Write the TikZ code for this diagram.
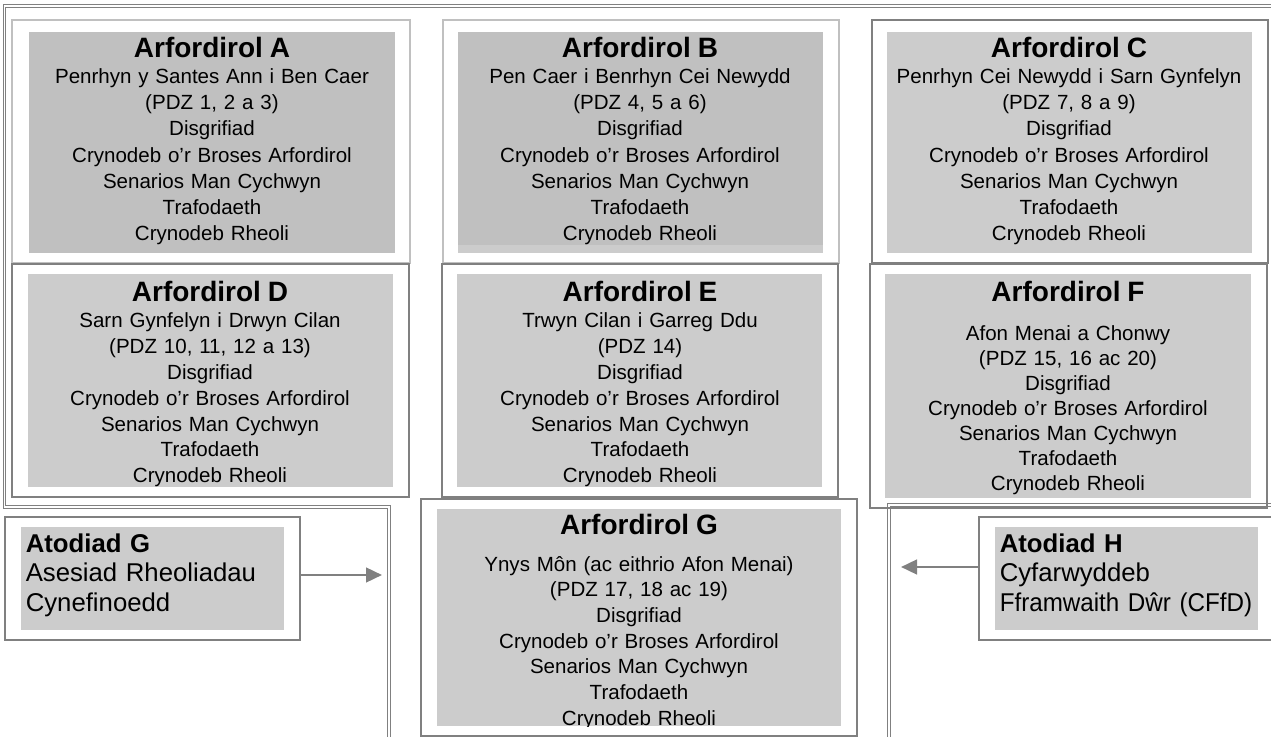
\documentclass[tikz,border=0pt]{standalone}
\usepackage{fontspec}
\setmainfont{Liberation Sans}
\newfontfamily\narrowsans[FakeStretch=0.94]{Liberation Sans}
\usetikzlibrary{arrows.meta,fit}
\definecolor{fillDark}{HTML}{C0C0C0}
\definecolor{fillLight}{HTML}{CCCCCC}
\definecolor{edgeDark}{HTML}{808080}
\definecolor{edgeLight}{HTML}{C0C0C0}
\newcommand\arfttl{\fontsize{21}{21}\bfseries\selectfont}
\begin{document}
\begin{tikzpicture}[x=0.75pt,y=-0.75pt,
  frameline/.style={draw=edgeDark, line width=0.75pt, double=white, double distance=1.1pt},
  outerbox/.style={draw=edgeDark, line width=1.4pt, inner sep=0pt},
  lightbox/.style={draw=edgeLight, line width=1.4pt, inner sep=0pt},
  fillbox/.style={fill=fillLight, inner sep=0pt},
  arftxt/.style={font=\fontsize{15.4}{19.5}\selectfont, text width=280pt, align=center, anchor=base, inner sep=0pt},
  atxt/.style={font=\fontsize{19.3}{22}\selectfont, text width=260pt, align=left, anchor=base west, inner sep=0pt},
  arr/.style={draw=edgeDark, line width=1.9pt, -{Triangle[length=12pt,width=11pt]}, fill=edgeDark}
]
\useasboundingbox (0,0) rectangle (1271,737);

% frame double lines
\draw[frameline] (1275,6.2) -- (4.7,6.2) -- (4.7,507.2) -- (389,507.2) -- (389,742);
\draw[frameline] (889,742) -- (889,505.2) -- (1275,505.2);

% outer boxes
\node[lightbox, fit={(12,20)(410,263)}] (bA) {};
\node[lightbox, fit={(443,20)(839,263)}] (bB) {};
\node[outerbox, fit={(872,20)(1268,263)}] (bC) {};
\node[outerbox, fit={(12,264)(409,497)}] (bD) {};
\node[outerbox, fit={(442,264)(838,497)}] (bE) {};
\node[outerbox, fit={(870,264)(1267,508)}] (bF) {};
\node[outerbox, fit={(421,499)(857,736)}] (bG) {};
\node[outerbox, fit={(5,517)(300,640)}] (atg) {};
\node[outerbox, fit={(979,517)(1276,640)}] (ath) {};

% grey fills
\node[fillbox, fill=fillDark, fit={(29,32)(395,253)}] (fA) {};
\node[fillbox, fit={(458,32)(823,253)}] (fB) {};
\fill[fillDark] (458,32) rectangle (823,245);
\node[fillbox, fit={(887,32)(1252,253)}] (fC) {};
\node[fillbox, fit={(28,274)(393,487)}] (fD) {};
\node[fillbox, fit={(457,274)(822,487)}] (fE) {};
\node[fillbox, fit={(885,274)(1251,498)}] (fF) {};
\node[fillbox, fit={(437,509)(841,726)}] (fG) {};
\node[fillbox, fit={(21,527)(284,630)}] (fatg) {};
\node[fillbox, fit={(995,527)(1258,630)}] (fath) {};

% texts
\node[arftxt, font=\fontsize{15.4}{19.6}\selectfont] (tA) at (212,57.5) {{\arfttl Arfordirol A}\\Penrhyn y Santes Ann i Ben Caer\\(PDZ 1, 2 a 3)\\Disgrifiad\\Crynodeb o’r Broses Arfordirol\\Senarios Man Cychwyn\\Trafodaeth\\Crynodeb Rheoli};
\node[arftxt, font=\fontsize{15.4}{19.6}\selectfont] (tB) at (640,57.5) {{\arfttl Arfordirol B}\\Pen Caer i Benrhyn Cei Newydd\\(PDZ 4, 5 a 6)\\Disgrifiad\\Crynodeb o’r Broses Arfordirol\\Senarios Man Cychwyn\\Trafodaeth\\Crynodeb Rheoli};
\node[arftxt, font=\fontsize{15.4}{19.6}\selectfont] (tC) at (1069,57.5) {{\arfttl Arfordirol C}\\Penrhyn Cei Newydd i Sarn Gynfelyn\\(PDZ 7, 8 a 9)\\Disgrifiad\\Crynodeb o’r Broses Arfordirol\\Senarios Man Cychwyn\\Trafodaeth\\Crynodeb Rheoli};
\node[arftxt, font=\fontsize{15.4}{19.4}\selectfont] (tD) at (210,301.7) {{\arfttl Arfordirol D}\\Sarn Gynfelyn i Drwyn Cilan\\(PDZ 10, 11, 12 a 13)\\Disgrifiad\\Crynodeb o’r Broses Arfordirol\\Senarios Man Cychwyn\\Trafodaeth\\Crynodeb Rheoli};
\node[arftxt, font=\fontsize{15.4}{19.4}\selectfont] (tE) at (640,301.7) {{\arfttl Arfordirol E}\\Trwyn Cilan i Garreg Ddu\\(PDZ 14)\\Disgrifiad\\Crynodeb o’r Broses Arfordirol\\Senarios Man Cychwyn\\Trafodaeth\\Crynodeb Rheoli};
\node[arftxt, font=\fontsize{15.4}{18.75}\selectfont] (tF) at (1068,301.7) {{\arfttl Arfordirol F}\\[10pt]Afon Menai a Chonwy\\(PDZ 15, 16 ac 20)\\Disgrifiad\\Crynodeb o’r Broses Arfordirol\\Senarios Man Cychwyn\\Trafodaeth\\Crynodeb Rheoli};
\begin{scope}
\clip (437,509) rectangle (841,726.5);
\node[arftxt, font=\fontsize{15.4}{19.3}\selectfont] (tG) at (639,534.3) {{\arfttl Arfordirol G}\\[8.25pt]Ynys Môn (ac eithrio Afon Menai)\\(PDZ 17, 18 ac 19)\\Disgrifiad\\Crynodeb o’r Broses Arfordirol\\Senarios Man Cychwyn\\Trafodaeth\\Crynodeb Rheoli};
\end{scope}

\node[atxt] (tatg) at (25.5,552.5) {{\bfseries Atodiad G}\\Asesiad Rheoliadau\\Cynefinoedd};
\node[atxt] (tath) at (999.5,552.5) {{\bfseries Atodiad H}\\Cyfarwyddeb\\{\narrowsans Fframwaith Dŵr (CFfD)}};

% arrows
\coordinate (tipG) at (382,575);
\coordinate (tipH) at (901,567);
\draw[arr] (atg.east |- tipG) -- (tipG);
\draw[arr] (ath.west |- tipH) -- (tipH);
\end{tikzpicture}
\end{document}
